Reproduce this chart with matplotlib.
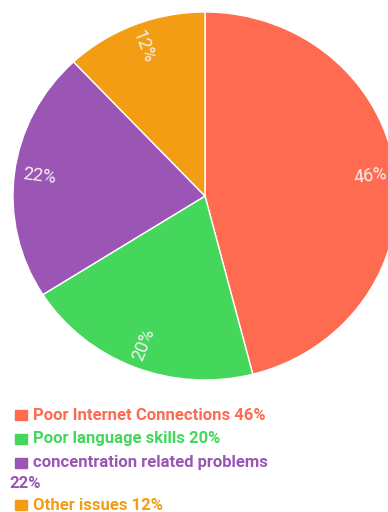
import matplotlib
matplotlib.use("Agg")
import matplotlib.pyplot as plt
import numpy as np
from matplotlib.patches import Rectangle

categories = ["Poor Internet Connections", "Poor language skills",
              "concentration related problems", "Other issues"]
values = [46, 20, 22, 12]
colors = ["#FE6B50", "#45D75C", "#9B55B5", "#F29D14"]
legend_lines = ["Poor Internet Connections 46%", "Poor language skills 20%",
                "concentration related problems", "Other issues 12%"]

plt.rcParams['font.family'] = ['Roboto', 'DejaVu Sans']

fig = plt.figure(figsize=(3.88, 5.12), dpi=100)
ax = fig.add_axes([13/388, (512-380)/512, 384/388, 368/512])
wedges, _ = ax.pie(values, colors=colors, startangle=90, counterclock=False,
                   wedgeprops=dict(edgecolor="white", linewidth=1.0))
ax.set_aspect('auto')
ax.set_xlim(-1, 1)
ax.set_ylim(-1, 1)

for w, v in zip(wedges, values):
    ang = (w.theta1 + w.theta2) / 2
    r = 0.87
    x = r * np.cos(np.radians(ang))
    y = r * np.sin(np.radians(ang))
    rot = ang
    if 90 < (rot % 360) < 270:
        rot = rot + 180
    rot = ((rot + 180) % 360) - 180
    ax.text(x, y, f"{v}%", rotation=rot, rotation_mode='anchor',
            ha='center', va='center', color='#F4F0F0', fontsize=13)

# legend
rows = [415, 439, 463, 505]
for (txt, col, yy) in zip(legend_lines, colors, rows):
    fig.patches.append(Rectangle((15/388, (512-yy-5)/512), 12/388, 10/512,
                                 transform=fig.transFigure, color=col))
    fig.text(33/388, (512-yy)/512, txt, color=col, fontsize=12, fontweight='bold',
             ha='left', va='center')
fig.text(9/388, (512-484)/512, f"{values[2]}%", color=colors[2], fontsize=12,
         fontweight='bold', ha='left', va='center')

fig.savefig("out.png", dpi=100, facecolor='white')
